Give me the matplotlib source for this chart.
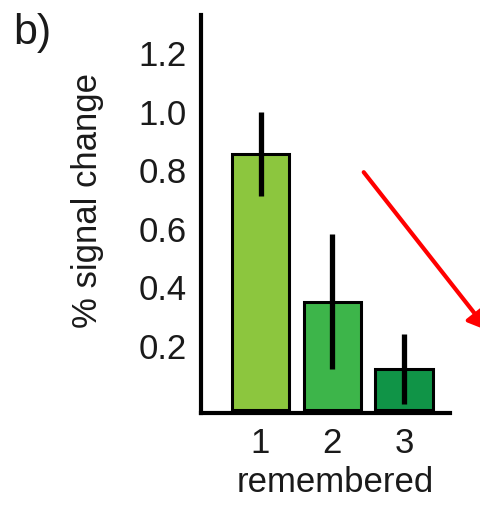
import matplotlib
matplotlib.use("Agg")
import matplotlib.pyplot as plt
from matplotlib.patches import FancyArrowPatch
from matplotlib.transforms import ScaledTranslation

plt.rcParams['font.family'] = ['Liberation Sans', 'DejaVu Sans']

categories = ["1", "2", "3"]
values = [0.875, 0.37, 0.14]
errors = [0.145, 0.23, 0.12]
colors = ["#8cc63e", "#3db54a", "#109447"]
yticks = [0.2, 0.4, 0.6, 0.8, 1.0, 1.2]

fig = plt.figure(figsize=(4.81, 5.08), dpi=100)
ax = fig.add_axes([201/481, (508-413)/508, (450-201)/481, (413-15)/508])

x = [1, 2, 3]
ax.bar(x, values, width=0.8, color=colors, edgecolor="black", linewidth=2.2, zorder=2)
ax.errorbar(x, values, yerr=errors, fmt="none", ecolor="black", elinewidth=3.8, capsize=0, zorder=3)

ax.set_xlim(0.17, 3.64)
ax.set_ylim(-0.01, 1.35)
ax.set_yticks(yticks)
ax.set_yticklabels([f"{t:.1f}" for t in yticks])
ax.set_xticks(x)
ax.set_xticklabels(categories)
ax.tick_params(axis="both", length=0, labelsize=25, colors="#1a1a1a")
ax.tick_params(axis="y", pad=10)
ax.tick_params(axis="x", pad=10)
off = ScaledTranslation(0, 4/72, fig.dpi_scale_trans)
for lbl in ax.get_yticklabels():
    lbl.set_transform(lbl.get_transform() + off)
for s in ["top", "right"]:
    ax.spines[s].set_visible(False)
for s in ["left", "bottom"]:
    ax.spines[s].set_linewidth(3)

fig.text(88/481, 1 - 200/508, "% signal change", rotation=90, ha="center", va="center", fontsize=25, color="#1a1a1a")
fig.text(335/481, 1 - 492/508, "remembered", ha="center", va="baseline", fontsize=25, color="#1a1a1a")
fig.text(13/481, 1 - 33/508, "b)", ha="left", va="center", fontsize=31, color="#1a1a1a")

arrow = FancyArrowPatch((362/481, 1 - 170/508), (490/481, 1 - 333/508),
                        transform=fig.transFigure, arrowstyle="-|>,head_length=12,head_width=7",
                        color="#ff0000", linewidth=3, mutation_scale=1)
fig.add_artist(arrow)

fig.savefig("out.png", dpi=100)
